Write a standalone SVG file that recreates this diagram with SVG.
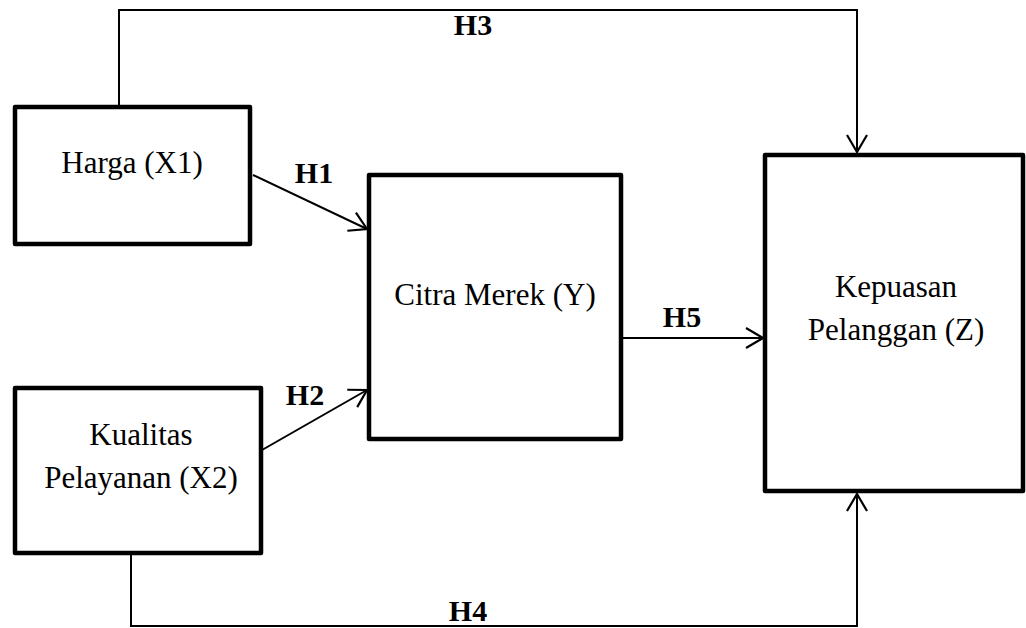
<svg xmlns="http://www.w3.org/2000/svg" width="1026" height="628" viewBox="0 0 1026 628">
<defs>
<style>
.box{fill:#fff;stroke:#000;stroke-width:4.5;stroke-linejoin:round}
.t{font-family:"Liberation Serif","Times New Roman",serif;font-size:31px;fill:#000;text-anchor:middle}
.h{font-family:"Liberation Serif","Times New Roman",serif;font-size:30px;font-weight:bold;fill:#000;text-anchor:middle}
.c{fill:none;stroke:#000;stroke-width:2}
</style>
<marker id="arr" viewBox="0 0 20 22" refX="18" refY="11" markerWidth="20" markerHeight="22" markerUnits="userSpaceOnUse" orient="auto">
<path d="M1,1 L18,11 L1,21" fill="none" stroke="#000" stroke-width="2.2"/>
</marker>
</defs>
<rect width="1026" height="628" fill="#fff"/>
<g id="connectors">
<polyline class="c" points="119,105 119,10 857,10 857,152" marker-end="url(#arr)"/>
<polyline class="c" points="131,555 131,626 857,626 857,494" marker-end="url(#arr)"/>
<line class="c" x1="253" y1="175" x2="367" y2="229" marker-end="url(#arr)"/>
<line class="c" x1="262" y1="450" x2="367" y2="390" marker-end="url(#arr)"/>
<line class="c" x1="623" y1="338" x2="763" y2="338" marker-end="url(#arr)"/>
<text class="h" x="473" y="35">H3</text>
<text class="h" x="468" y="621">H4</text>
<text class="h" x="314" y="183">H1</text>
<text class="h" x="305" y="405">H2</text>
<text class="h" x="682" y="327">H5</text>
</g>
<g id="harga">
<rect class="box" x="15" y="107" width="235" height="137"/>
<text class="t" x="132" y="173">Harga (X1)</text>
</g>
<g id="kualitas">
<rect class="box" x="15" y="388" width="246" height="165"/>
<text class="t" x="141" y="445">Kualitas</text>
<text class="t" x="141" y="488">Pelayanan (X2)</text>
</g>
<g id="citra">
<rect class="box" x="369" y="175" width="252" height="264"/>
<text class="t" x="495" y="305">Citra Merek (Y)</text>
</g>
<g id="kepuasan">
<rect class="box" x="765" y="155" width="258" height="336"/>
<text class="t" x="896" y="297">Kepuasan</text>
<text class="t" x="896" y="340">Pelanggan (Z)</text>
</g>
</svg>
